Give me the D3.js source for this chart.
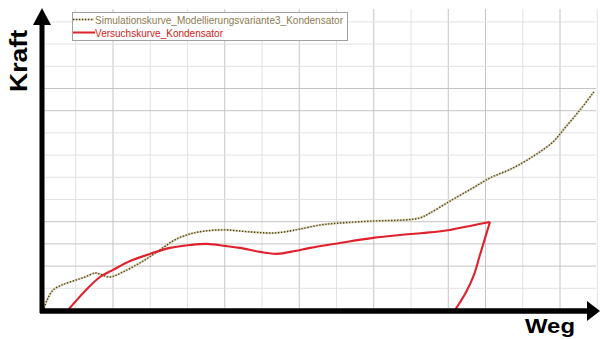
<!DOCTYPE html>
<html>
<head>
<meta charset="utf-8">
<script src="https://cdn.jsdelivr.net/npm/d3@7/dist/d3.min.js"></script>
<style>
  html, body { margin: 0; padding: 0; background: #fff; }
  svg { display: block; }
</style>
</head>
<body>
<svg id="chart" width="600" height="340"></svg>
<script>
// ---- data (grid units) ----
const seriesNames = ["Simulationskurve_Modellierungsvariante3_Kondensator", "Versuchskurve_Kondensator"];
const axisLabels = ["Weg", "Kraft"];

const simX = [0.15,0.23,0.39,0.63,0.93,1.25,1.52,1.65,1.92,2.32,2.81,3.26,3.66,4.07,4.47,5.01,5.68,6.30,6.75,7.02,7.56,8.09,8.98,9.84,10.24,10.51,11.05,11.66,12.12,12.74,13.33,13.81,14.13,14.54,14.91];
const simY = [0.11,0.47,0.92,1.15,1.33,1.51,1.69,1.64,1.51,1.78,2.23,2.73,3.18,3.45,3.58,3.63,3.54,3.49,3.58,3.67,3.85,3.94,4.03,4.08,4.17,4.39,4.93,5.52,5.97,6.42,7.00,7.59,8.22,9.04,9.85];

const expX = [0.79,0.98,1.25,1.65,2.00,2.46,2.99,3.53,4.07,4.52,5.01,5.41,5.95,6.40,6.89,7.29,8.09,8.98,9.70,10.32,11.05,11.58,12.12,11.99,11.85,11.69,11.48,11.32,11.18];
const expY = [0.02,0.38,0.88,1.51,1.83,2.23,2.55,2.82,2.95,3.00,2.91,2.82,2.64,2.55,2.68,2.82,3.04,3.27,3.40,3.49,3.63,3.81,3.99,3.27,2.50,1.60,0.83,0.38,0.02];

const xGrid = d3.range(0, 16);   // vertical grid lines
const yGrid = d3.range(1, 14);   // horizontal grid lines

// ---- drawing ----
const svg = d3.select("#chart");
const x = d3.scaleLinear().domain([0, 15]).range([38.5, 597.25]);
const y = d3.scaleLinear().domain([0, 13]).range([310.5, 21.9]);

const darkX = new Set([2,5,7,9,11,12,14]);
const darkY = new Set([2,3,4,9,10]);

const grid = svg.append("g");
grid.selectAll("line.v").data(xGrid.filter(d => d > 0)).join("line")
  .attr("x1", d => x(d)).attr("x2", d => x(d))
  .attr("y1", 9).attr("y2", 310)
  .attr("stroke", d => darkX.has(d) ? "#c4c4c4" : "#e2e2e2").attr("stroke-width", 1);
grid.selectAll("line.h").data(yGrid).join("line")
  .attr("x1", 42).attr("x2", 596)
  .attr("y1", d => y(d)).attr("y2", d => y(d))
  .attr("stroke", d => darkY.has(d) ? "#c4c4c4" : "#e2e2e2").attr("stroke-width", 1);

// simulation curve
const simData = simX.map((v, i) => [v, simY[i]]);
const lineGen = d3.line().x(d => x(d[0])).y(d => y(d[1])).curve(d3.curveCatmullRom.alpha(0.5));
svg.append("path").attr("d", lineGen(simData))
  .attr("fill", "none").attr("stroke", "#ddd3ae").attr("stroke-width", 2.2);
svg.append("path").attr("d", lineGen(simData))
  .attr("fill", "none").attr("stroke", "#45402a").attr("stroke-width", 1.4)
  .attr("stroke-dasharray", "1.3,1.7");

// experiment curve (split at the turning point)
const expData = expX.map((v, i) => [v, expY[i]]);
const turn = d3.maxIndex(expX);
[expData.slice(0, turn + 1), expData.slice(turn)].forEach(seg => {
  svg.append("path").attr("d", lineGen(seg))
    .attr("fill", "none").attr("stroke", "#e0202c").attr("stroke-width", 2.1)
    .attr("stroke-linejoin", "miter");
});

// axes with arrows
svg.append("line").attr("x1", 42).attr("x2", 42).attr("y1", 313).attr("y2", 20)
  .attr("stroke", "#000").attr("stroke-width", 5);
svg.append("path").attr("d", "M42,8 L33,25 L51,25 Z").attr("fill", "#000");
svg.append("line").attr("x1", 40).attr("x2", 590).attr("y1", 311).attr("y2", 311)
  .attr("stroke", "#000").attr("stroke-width", 5.5);
svg.append("path").attr("d", "M600,311 L587,301 L587,321 Z").attr("fill", "#000");

// axis labels
svg.append("text").attr("x", 525).attr("y", 333)
  .attr("font-family", "Liberation Sans, Arial, sans-serif").attr("font-weight", "bold")
  .attr("font-size", 20).attr("textLength", 50).attr("lengthAdjust", "spacingAndGlyphs")
  .text(axisLabels[0]);
svg.append("text").attr("transform", "translate(27,61) rotate(-90)")
  .attr("text-anchor", "middle")
  .attr("font-family", "Liberation Sans, Arial, sans-serif").attr("font-weight", "bold")
  .attr("font-size", 23).attr("textLength", 62).attr("lengthAdjust", "spacingAndGlyphs")
  .text(axisLabels[1]);

// legend
const lg = svg.append("g");
lg.append("rect").attr("x", 72.5).attr("y", 12.5).attr("width", 275).attr("height", 28)
  .attr("fill", "#fff").attr("stroke", "#a0a0a0").attr("stroke-width", 1);
lg.append("line").attr("x1", 73).attr("x2", 94).attr("y1", 19.5).attr("y2", 19.5)
  .attr("stroke", "#ddd3ae").attr("stroke-width", 1.8);
lg.append("line").attr("x1", 73).attr("x2", 94).attr("y1", 19.5).attr("y2", 19.5)
  .attr("stroke", "#45402a").attr("stroke-width", 1.3).attr("stroke-dasharray", "1.3,1.7");
lg.append("line").attr("x1", 73).attr("x2", 95).attr("y1", 32.5).attr("y2", 32.5)
  .attr("stroke", "#e0202c").attr("stroke-width", 2);
lg.append("text").attr("x", 95).attr("y", 23.5)
  .attr("font-family", "Liberation Sans, Arial, sans-serif").attr("font-size", 10.5)
  .attr("fill", "#8c7b50").attr("textLength", 248).attr("lengthAdjust", "spacingAndGlyphs")
  .text(seriesNames[0]);
lg.append("text").attr("x", 95).attr("y", 36.5)
  .attr("font-family", "Liberation Sans, Arial, sans-serif").attr("font-size", 10.5)
  .attr("fill", "#d42020").attr("textLength", 128).attr("lengthAdjust", "spacingAndGlyphs")
  .text(seriesNames[1]);
</script>
</body>
</html>
